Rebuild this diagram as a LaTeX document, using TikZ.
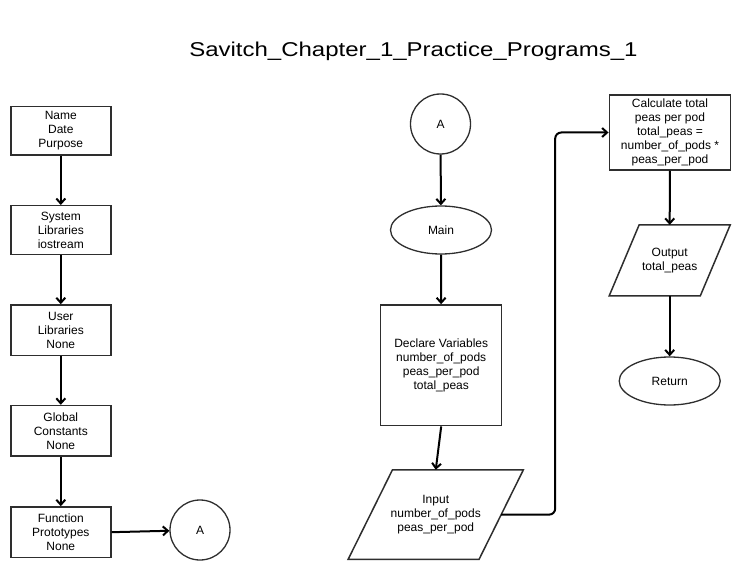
\documentclass[tikz,border=0pt]{standalone}
\usepackage{fontspec}
\setmainfont{Liberation Sans}
\usetikzlibrary{shapes.geometric,arrows.meta,calc}
\definecolor{edge}{HTML}{2E2E2E}
\tikzset{
  every node/.style={font=\fontsize{12}{14}\selectfont, align=center, text=black},
  procbox/.style={draw=edge, line width=1.5pt, rectangle, inner sep=0pt},
  ovalnode/.style={draw=edge, line width=1.3pt, ellipse, minimum width=101pt, minimum height=48pt, inner sep=0pt},
  connnode/.style={draw=edge, line width=1.3pt, circle, minimum size=60pt, inner sep=0pt},
  iobody/.style={rectangle, inner sep=0pt},
  ioline/.style={draw=edge, line width=1.5pt, line join=miter},
  flow/.style={line width=2pt, -{Straight Barb[length=5pt,width=9pt,line width=2pt]}},
}
% parallelogram drawn around a rectangular body node: #1 = node, #2 = half slant
\newcommand{\ioshape}[2]{%
  \draw[ioline] ($(#1.north west)+(#2,0)$) -- ($(#1.north east)+(#2,0)$)
    -- ($(#1.south east)+(-#2,0)$) -- ($(#1.south west)+(-#2,0)$) -- cycle;}
\begin{document}
\begin{tikzpicture}[x=1pt, y=-1pt]
\useasboundingbox (0,0) rectangle (755,580);

% title
\node[anchor=base, font=\fontsize{20}{24}\selectfont] (title) at (413.4,57)
  {\scalebox{1.2}[1]{Savitch\_Chapter\_1\_Practice\_Programs\_1}};

% left column: program header blocks
\node[procbox, minimum width=100pt, minimum height=48.5pt] (hdr)   at (60.8,131)   {Name\\Date\\Purpose};
\node[procbox, minimum width=100pt, minimum height=48.5pt] (syslib) at (60.8,230)  {System\\Libraries\\iostream};
\node[procbox, minimum width=100pt, minimum height=50.5pt] (usrlib) at (60.8,330.2) {User\\Libraries\\None};
\node[procbox, minimum width=100pt, minimum height=50.5pt] (glob)   at (60.8,430.8) {Global\\Constants\\None};
\node[procbox, minimum width=100pt, minimum height=50.5pt] (proto)  at (60.8,532.2) {Function\\Prototypes\\None};
\node[connnode] (aout) at (200,530) {A};

% middle column: main
\node[connnode] (ain) at (440.5,124) {A};
\node[ovalnode] (main) at (441,230) {Main};
\node[procbox, minimum width=121pt, minimum height=120.7pt] (decl) at (441.2,365.3)
  {Declare Variables\\number\_of\_pods\\peas\_per\_pod\\total\_peas};
\node[iobody, minimum width=130.5pt, minimum height=89.3pt] (input) at (435.75,514.6)
  {Input\\number\_of\_pods\\peas\_per\_pod};
\ioshape{input}{22.2}

% right column: compute and output
\node[procbox, minimum width=121.4pt, minimum height=75pt] (calc) at (670,132.5)
  {Calculate total\\peas per pod\\total\_peas =\\number\_of\_pods *\\peas\_per\_pod};
\node[iobody, minimum width=90.7pt, minimum height=70.7pt] (output) at (669.7,260.4)
  {Output\\total\_peas};
\ioshape{output}{15}
\node[ovalnode] (ret) at (669.7,381) {Return};

% connectors
\draw[flow] (hdr) -- (syslib);
\draw[flow] (syslib) -- (usrlib);
\draw[flow] (usrlib) -- (glob);
\draw[flow] (glob) -- (proto);
\draw[flow] (proto.east) -- (aout);
\draw[flow] (ain) -- (main);
\draw[flow] (main) -- (decl);
\draw[flow] (decl.south) -- (input.north);
\draw[flow, rounded corners=6pt] (input.east) -- ++(54,0) |- (calc.west);
\draw[flow] (calc) -- (output.north);
\draw[flow] (output.south) -- (ret);
\end{tikzpicture}
\end{document}
